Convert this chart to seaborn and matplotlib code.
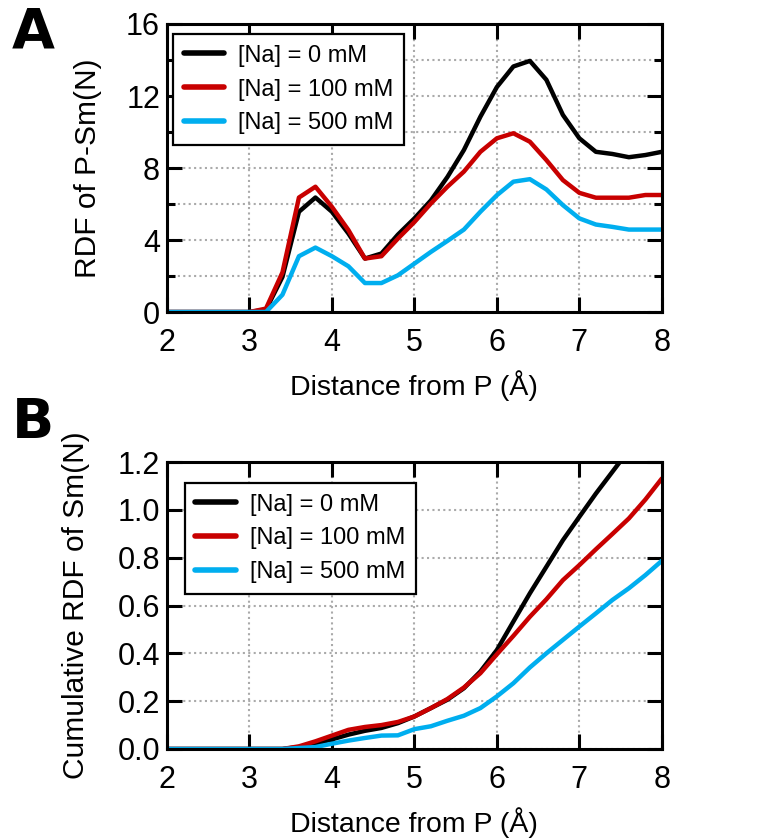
import numpy as np
import pandas as pd
import matplotlib
matplotlib.use('Agg')
import matplotlib.pyplot as plt
from matplotlib.ticker import MultipleLocator, FormatStrFormatter
import seaborn as sns

# distance grid (A), 0.2 A steps
distance = [round(2.0 + 0.2 * i, 1) for i in range(31)]

labels = ['[Na] = 0 mM', '[Na] = 100 mM', '[Na] = 500 mM']
colors = ['#000000', '#C80000', '#00AEEF']

# panel A: RDF of P-Sm(N)
rdf_0 = [0, 0, 0, 0, 0, 0, 0.13, 1.95, 5.57, 6.36, 5.57, 4.36, 2.97, 3.25, 4.3,
         5.2, 6.2, 7.5, 9.0, 10.85, 12.5, 13.64, 13.95, 12.9, 10.95, 9.65, 8.9,
         8.78, 8.6, 8.72, 8.9]
rdf_100 = [0, 0, 0, 0, 0, 0, 0.19, 2.2, 6.36, 6.96, 5.84, 4.55, 2.97, 3.1, 4.08,
           5.0, 6.03, 6.96, 7.8, 8.9, 9.65, 9.93, 9.46, 8.44, 7.33, 6.62, 6.35,
           6.35, 6.35, 6.5, 6.5]
rdf_500 = [0, 0, 0, 0, 0, 0, 0, 0.96, 3.1, 3.58, 3.1, 2.54, 1.61, 1.61, 2.04,
           2.69, 3.34, 3.95, 4.58, 5.57, 6.49, 7.24, 7.38, 6.81, 5.94, 5.2, 4.86,
           4.73, 4.58, 4.58, 4.58]

# panel B: cumulative RDF of Sm(N)
cum_0 = [0, 0, 0, 0, 0, 0, 0, 0, 0.008, 0.022, 0.04, 0.06, 0.076, 0.088, 0.108,
         0.136, 0.171, 0.206, 0.254, 0.324, 0.414, 0.533, 0.651, 0.762, 0.873,
         0.971, 1.068, 1.159, 1.25, 1.34, 1.43]
cum_100 = [0, 0, 0, 0, 0, 0, 0, 0, 0.011, 0.032, 0.056, 0.08, 0.092, 0.1, 0.113,
           0.136, 0.171, 0.209, 0.257, 0.317, 0.396, 0.473, 0.553, 0.626, 0.706,
           0.769, 0.835, 0.899, 0.964, 1.043, 1.131]
cum_500 = [0, 0, 0, 0, 0, 0, 0, 0, 0.004, 0.008, 0.022, 0.035, 0.046, 0.056, 0.057,
           0.083, 0.095, 0.118, 0.139, 0.171, 0.22, 0.275, 0.341, 0.4, 0.456,
           0.512, 0.567, 0.623, 0.672, 0.727, 0.787]


def to_long(series):
    frames = []
    for lab, vals in zip(labels, series):
        frames.append(pd.DataFrame({'dist': distance, 'val': vals, 'conc': lab}))
    return pd.concat(frames, ignore_index=True)


sns.set_style('ticks')
plt.rcParams['font.family'] = ['Liberation Sans', 'DejaVu Sans']
for key in ['text.color', 'axes.labelcolor', 'xtick.color', 'ytick.color']:
    plt.rcParams[key] = 'black'

fig = plt.figure(figsize=(7.59, 8.39), dpi=100)
ax_a = fig.add_axes([0.22, 0.6281, 0.652, 0.3433])
ax_b = fig.add_axes([0.22, 0.1073, 0.652, 0.342])


def style_axis(ax, ylim, major, minor, legend_anchor):
    ax.set_xlim(2, 8)
    ax.set_ylim(*ylim)
    ax.xaxis.set_major_locator(MultipleLocator(1))
    ax.yaxis.set_major_locator(MultipleLocator(major))
    if minor:
        ax.yaxis.set_minor_locator(MultipleLocator(minor))
    ax.grid(True, which='both', color='#AAAAAA', linestyle=(0, (1, 1.6)), linewidth=1.5)
    ax.set_axisbelow(True)
    ax.tick_params(which='both', direction='in', top=True, right=True,
                   width=2.2, labelsize=22)
    ax.tick_params(axis='x', pad=11.5)
    ax.tick_params(axis='y', pad=5)
    ax.tick_params(which='major', length=11)
    ax.tick_params(which='minor', length=6)
    for sp in ax.spines.values():
        sp.set_linewidth(2.2)
        sp.set_color('black')
    ax.set_xlabel('Distance from P (Å)', fontsize=20.5, labelpad=9)
    leg = ax.legend(loc='upper left', bbox_to_anchor=legend_anchor, fontsize=17,
                    handlelength=1.7, handletextpad=0.6,
                    fancybox=False, framealpha=1, edgecolor='black',
                    borderpad=0.45, labelspacing=0.5, borderaxespad=0)
    leg.get_frame().set_linewidth(1.6)
    for line in leg.get_lines():
        line.set_linewidth(4)


sns.lineplot(data=to_long([rdf_0, rdf_100, rdf_500]), x='dist', y='val', hue='conc',
             palette=colors, linewidth=3.2, ax=ax_a)
style_axis(ax_a, (0, 16), 4, 2, (0.012, 0.965))
ax_a.set_ylabel('RDF of P-Sm(N)', fontsize=21.5, labelpad=17)
ax_a.yaxis.set_major_formatter(FormatStrFormatter('%d'))

sns.lineplot(data=to_long([cum_0, cum_100, cum_500]), x='dist', y='val', hue='conc',
             palette=colors, linewidth=3.2, ax=ax_b)
style_axis(ax_b, (0, 1.2), 0.2, None, (0.036, 0.927))
ax_b.set_ylabel('Cumulative RDF of Sm(N)', fontsize=21.5, labelpad=20)
ax_b.yaxis.set_major_formatter(FormatStrFormatter('%.1f'))

fig.text(0.015, 0.993, 'A', fontsize=40, fontweight='bold', va='top', ha='left',
         family='DejaVu Sans')
fig.text(0.015, 0.528, 'B', fontsize=40, fontweight='bold', va='top', ha='left',
         family='DejaVu Sans')

fig.savefig('out.png', dpi=100)
